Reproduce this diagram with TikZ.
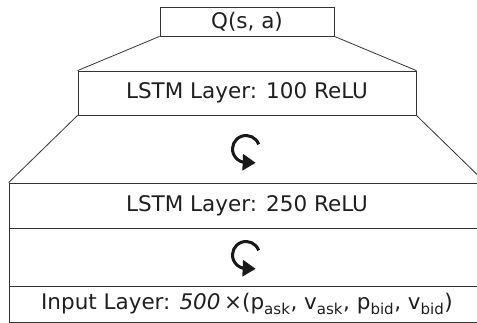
\documentclass[tikz,border=0pt]{standalone}
\usepackage{fontspec}
\setmainfont{DejaVu Sans}
\usetikzlibrary{arrows.meta,calc}

\begin{document}
\begin{tikzpicture}[x=1pt, y=1pt,
    layer/.style={draw=black!80, line width=0.8pt, inner sep=0pt, text=black!88,
                  font=\fontsize{21.5}{26}\selectfont},
    funnel/.style={draw=black!80, line width=0.8pt},
    recur/.style={line width=3pt, black!90, -{Triangle[length=13pt,width=16pt]}}]
    \useasboundingbox (0,0) rectangle (477,-323);
    \clip (0,0) rectangle (477,-323);
    % boxes, top to bottom
    \node [layer, minimum width=174, minimum height=29] (q) at (247,-21.5) {Q(s, a)};
    \node [layer, minimum width=338, minimum height=44] (h1) at (247,-93) {LSTM Layer: 100 ReLU};
    \node [layer, minimum width=476, minimum height=45] (h2) at (247,-205.5) {LSTM Layer: 250 ReLU};
    \node [layer, minimum width=476, minimum height=58] (r) at (247,-257) {};
    \node [layer, minimum width=476, minimum height=36] (in) at (247,-304)
        {Input Layer: \textit{500}\,×(p\textsubscript{ask}, v\textsubscript{ask}, p\textsubscript{bid}, v\textsubscript{bid})};
    % funnels
    \draw [funnel] (q.south west) -- (h1.north west);
    \draw [funnel] (q.south east) -- (h1.north east);
    \draw [funnel] (h1.south west) -- (h2.north west);
    \draw [funnel] (h1.south east) -- (h2.north east);
    % recurrence
    \coordinate (c1) at (246,-149);
    \coordinate (c2) at (246,-255);
    \foreach \c in {c1,c2}
        \draw [recur] (\c) ++(20:13.5) arc [start angle=20, end angle=260, radius=13.5] -- ++(12,-0.5);
\end{tikzpicture}
\end{document}
